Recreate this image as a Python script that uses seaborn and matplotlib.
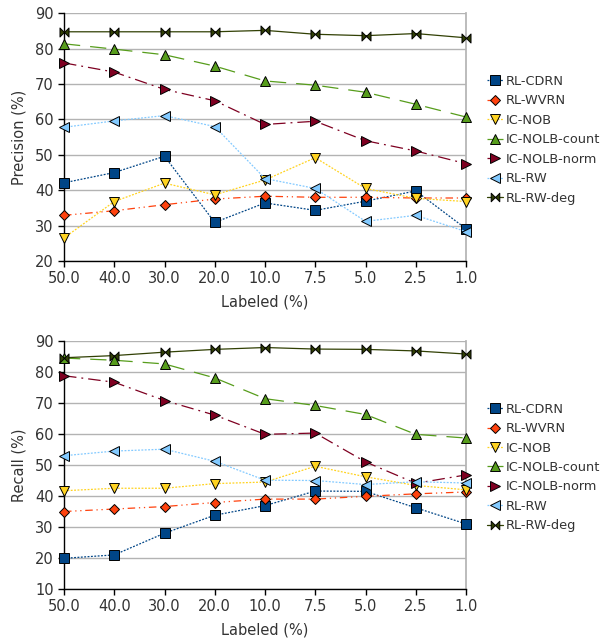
import matplotlib
matplotlib.use("Agg")
import matplotlib.pyplot as plt
from matplotlib.path import Path
import seaborn as sns
import pandas as pd

labels = ["50.0", "40.0", "30.0", "20.0", "10.0", "7.5", "5.0", "2.5", "1.0"]
series = ["RL-CDRN", "RL-WVRN", "IC-NOB", "IC-NOLB-count", "IC-NOLB-norm", "RL-RW", "RL-RW-deg"]

precision = {
    "RL-CDRN":       [42.1, 45.0, 49.6, 30.9, 36.4, 34.3, 36.9, 39.8, 29.1],
    "RL-WVRN":       [32.9, 34.2, 35.9, 37.5, 38.3, 38.0, 38.0, 37.8, 37.8],
    "IC-NOB":        [26.5, 36.8, 42.0, 38.7, 42.9, 49.2, 40.5, 37.7, 36.8],
    "IC-NOLB-count": [81.4, 79.9, 78.3, 75.1, 70.9, 69.7, 67.7, 64.3, 60.7],
    "IC-NOLB-norm":  [76.0, 73.4, 68.5, 65.3, 58.6, 59.5, 54.0, 51.1, 47.5],
    "RL-RW":         [57.8, 59.6, 61.1, 58.0, 43.3, 40.5, 31.2, 32.9, 28.3],
    "RL-RW-deg":     [84.8, 84.8, 84.8, 84.8, 85.2, 84.1, 83.7, 84.3, 83.1],
}
recall = {
    "RL-CDRN":       [19.9, 21.0, 28.0, 33.8, 36.9, 41.6, 41.5, 36.2, 31.0],
    "RL-WVRN":       [35.0, 35.8, 36.6, 37.9, 39.0, 39.0, 39.9, 40.7, 41.3],
    "IC-NOB":        [41.7, 42.5, 42.5, 44.0, 44.5, 49.6, 46.2, 43.4, 42.0],
    "IC-NOLB-count": [84.5, 83.8, 82.6, 78.1, 71.4, 69.2, 66.3, 59.9, 58.7],
    "IC-NOLB-norm":  [78.8, 76.7, 70.8, 66.1, 59.9, 60.3, 51.0, 44.1, 46.8],
    "RL-RW":         [53.0, 54.5, 55.1, 51.2, 45.1, 45.0, 43.7, 44.6, 44.2],
    "RL-RW-deg":     [84.6, 85.3, 86.4, 87.3, 87.9, 87.4, 87.3, 86.8, 85.8],
}

colors = {
    "RL-CDRN": "#004586", "RL-WVRN": "#ff420e", "IC-NOB": "#ffd320",
    "IC-NOLB-count": "#579d1c", "IC-NOLB-norm": "#7e0021", "RL-RW": "#83caff",
    "RL-RW-deg": "#314004",
}
bowtie = Path([(-1, -1), (-1, 1), (1, -1), (1, 1), (-1, -1)],
              [Path.MOVETO, Path.LINETO, Path.LINETO, Path.LINETO, Path.CLOSEPOLY])
markers = {
    "RL-CDRN": "s", "RL-WVRN": "D", "IC-NOB": "v", "IC-NOLB-count": "^",
    "IC-NOLB-norm": ">", "RL-RW": "<", "RL-RW-deg": bowtie,
}
msizes = {
    "RL-CDRN": 7, "RL-WVRN": 5, "IC-NOB": 7, "IC-NOLB-count": 7,
    "IC-NOLB-norm": 7, "RL-RW": 7, "RL-RW-deg": 6.5,
}
dashes = {
    "RL-CDRN": (1.5, 1.2), "RL-WVRN": (6, 3, 1, 3, 1, 3), "IC-NOB": (1.5, 1.2),
    "IC-NOLB-count": (13, 8), "IC-NOLB-norm": (10, 4, 1.5, 4), "RL-RW": (1.5, 1.2),
    "RL-RW-deg": None,
}

sns.set_theme(style="white")
plt.rcParams["font.family"] = ["DejaVu Sans"]
text_color = "#333333"
fs = 10.5
legend_fs = 9.3

fig = plt.figure(figsize=(6.16, 6.38), dpi=100)
ax1 = fig.add_axes([0.1039, 0.591, 0.6526, 0.388])
ax2 = fig.add_axes([0.1039, 0.0768, 0.6526, 0.3887])


def draw(ax, data, ylim, ylabel):
    for s in series:
        df = pd.DataFrame({"Labeled": labels, "val": data[s]})
        sns.lineplot(data=df, x="Labeled", y="val", ax=ax, color=colors[s],
                     marker=markers[s], markersize=msizes[s],
                     markeredgecolor="black", markeredgewidth=0.7,
                     markerfacecolor=colors[s], linewidth=0.9,
                     label=s, sort=False, clip_on=False, zorder=3)
        line = ax.get_lines()[-1]
        if dashes[s] is not None:
            line.set_dashes(dashes[s])
    ax.set_xlim(0, len(labels) - 1)
    ax.set_ylim(*ylim)
    ax.set_yticks(range(ylim[0], ylim[1] + 1, 10))
    ax.yaxis.grid(True, color="#b3b3b3", linewidth=1)
    ax.xaxis.grid(False)
    ax.set_axisbelow(True)
    for sp in ["left", "bottom"]:
        ax.spines[sp].set_color("black")
        ax.spines[sp].set_linewidth(1)
    ax.spines["right"].set_color("#b3b3b3")
    ax.spines["top"].set_visible(False)
    ax.tick_params(axis="both", which="both", direction="out", length=4,
                   width=1, color="black", labelsize=fs, labelcolor=text_color,
                   bottom=True, left=True)
    ax.set_xlabel("Labeled (%)", fontsize=fs, color=text_color, labelpad=6)
    ax.set_ylabel(ylabel, fontsize=fs, color=text_color, labelpad=6)
    leg = ax.legend(loc="center left", bbox_to_anchor=(1.04, 0.49), frameon=False,
                    fontsize=legend_fs, handlelength=1.2, handletextpad=0.25,
                    labelspacing=0.5, borderaxespad=0, markerscale=0.95)
    for t in leg.get_texts():
        t.set_color(text_color)


draw(ax1, precision, (20, 90), "Precision (%)")
draw(ax2, recall, (10, 90), "Recall (%)")

fig.savefig("out.png", dpi=100)
